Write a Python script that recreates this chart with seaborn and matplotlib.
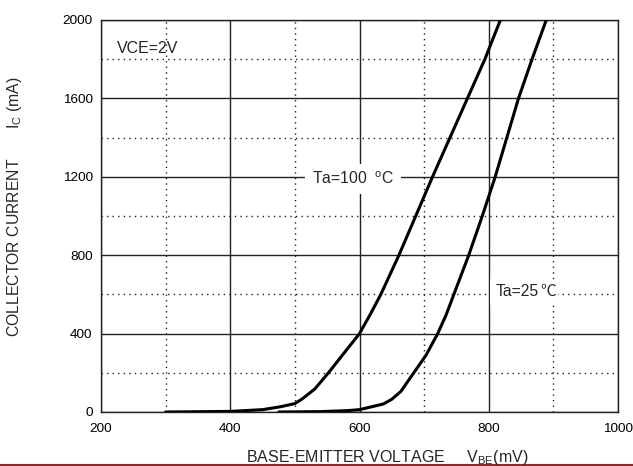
import pandas as pd
import matplotlib
matplotlib.use('Agg')
import matplotlib.pyplot as plt
import seaborn as sns
from matplotlib.ticker import MultipleLocator
from matplotlib.lines import Line2D

# values (VBE in mV, IC in mA)
vbe_100 = [300, 400, 450, 478, 500, 511, 531, 552, 573, 600, 617, 633, 661, 687, 713, 740, 767, 794, 818]
ic_100 = [0, 3, 12, 27, 43, 66, 118, 200, 288, 400, 500, 600, 800, 1000, 1200, 1400, 1600, 1800, 2000]

vbe_25 = [475, 540, 581, 600, 637, 650, 664, 684, 703, 721, 734, 746, 769, 790, 810, 828, 846, 867, 889]
ic_25 = [0, 2, 7, 12, 41, 65, 105, 200, 290, 400, 495, 600, 800, 1000, 1200, 1400, 1600, 1800, 2000]

x_ticks = [200, 400, 600, 800, 1000]
y_ticks = [0, 400, 800, 1200, 1600, 2000]

df = pd.concat([
    pd.DataFrame({'vbe': vbe_100, 'ic': ic_100, 'temp': '100'}),
    pd.DataFrame({'vbe': vbe_25, 'ic': ic_25, 'temp': '25'}),
])

sns.set_style('white')
plt.rcParams['font.family'] = ['Liberation Sans', 'Noto Sans CJK SC', 'DejaVu Sans']
plt.rcParams['mathtext.default'] = 'regular'

fig = plt.figure(figsize=(6.33, 4.66), dpi=100)
ax = fig.add_axes([101 / 633, 1 - 412 / 466, 517 / 633, 392 / 466])

sns.lineplot(data=df, x='vbe', y='ic', units='temp', estimator=None, sort=False,
             color='black', linewidth=2.2, ax=ax, zorder=3)

ax.set_xlim(200, 1000)
ax.set_ylim(0, 2000)
ax.set_xticks(x_ticks)
ax.set_yticks(y_ticks)
ax.xaxis.set_minor_locator(MultipleLocator(100))
ax.yaxis.set_minor_locator(MultipleLocator(200))
ax.grid(which='major', color='#222222', linewidth=1.0)
ax.grid(which='minor', color='#222222', linewidth=1.0, linestyle=(0, (1, 3)))
ax.tick_params(which='both', length=0, labelsize=9.7, colors='black')
ax.tick_params(axis='x', pad=8)
ax.tick_params(axis='y', pad=6)
ax.set_xlabel('')
ax.set_ylabel('')
for s in ax.spines.values():
    s.set_color('#222222')
    s.set_linewidth(1.0)

ax.text(225, 1857, 'VCE=2V', fontsize=11.5, va='center', ha='left')
ax.text(526, 1190, 'Ta=100  $^{o}$C', fontsize=11.3, va='center', ha='left',
        bbox=dict(facecolor='white', edgecolor='none', pad=5), zorder=2)
t25 = ax.text(811, 614, 'Ta=25', fontsize=11.3, va='center', ha='left',
              bbox=dict(facecolor='white', edgecolor='none', pad=4), zorder=2)
ax.annotate('℃', xy=(1, 0.5), xycoords=t25, xytext=(1, 0), textcoords='offset points',
            fontsize=11.3, va='center', ha='left', family=['Noto Sans CJK SC'],
            bbox=dict(facecolor='white', edgecolor='none', pad=1), zorder=2.5)

fig.text(387 / 633, 1 - 462 / 466, 'BASE-EMITTER VOLTAGE     V$_{BE}$(mV)',
         fontsize=11.5, ha='center', va='baseline')
fig.text(15 / 633, 1 - 207 / 466, 'COLLECTOR CURRENT       I$_{C}$ (mA)',
         fontsize=11.3, ha='center', va='center', rotation=90)

fig.add_artist(Line2D([0, 1], [0.002, 0.002], color='#8b2a2a', linewidth=1.5,
                      transform=fig.transFigure))

fig.savefig('out.png', dpi=100)
